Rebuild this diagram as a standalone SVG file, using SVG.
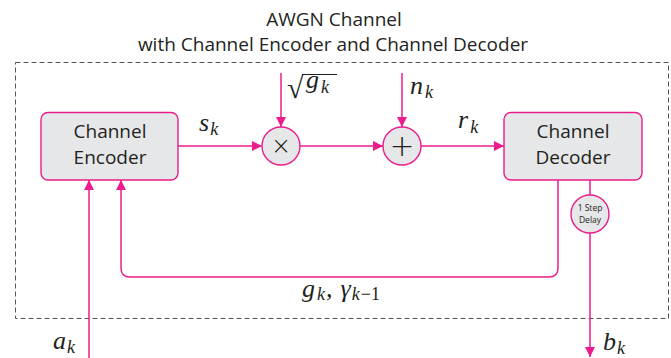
<svg xmlns="http://www.w3.org/2000/svg" width="671" height="358" viewBox="0 0 671 358">
<defs>
<style>
.title{font-family:"Open Sans","Liberation Sans",sans-serif;font-size:19px;fill:#231f20;text-anchor:middle}
.box{fill:#e6e7e8;stroke:#ec1c8c;stroke-width:1.4}
.lbl{font-family:"Open Sans","Liberation Sans",sans-serif;font-size:19px;fill:#231f20;text-anchor:middle}
.small{font-family:"Open Sans","Liberation Sans",sans-serif;font-size:8.5px;fill:#231f20;text-anchor:middle}
.op{font-family:"DejaVu Sans","Liberation Sans",sans-serif;fill:#231f20;text-anchor:middle;font-weight:200}
.conn{fill:none;stroke:#ec1c8c;stroke-width:1.5}
.m{font-family:"Liberation Serif","Times New Roman",serif;font-style:italic;font-size:26px;fill:#231f20}
.s{font-size:18px}
</style>
<marker id="arr" viewBox="0 0 10 10" refX="10" refY="5" markerWidth="10" markerHeight="10" markerUnits="userSpaceOnUse" orient="auto">
<path d="M0,0 L10,5 L0,10 z" fill="#ec1c8c"/>
</marker>
</defs>
<rect width="671" height="358" fill="#ffffff"/>
<text class="title" x="334" y="26">AWGN Channel</text>
<text class="title" x="333" y="51">with Channel Encoder and Channel Decoder</text>
<rect x="15.5" y="62.5" width="653" height="256" fill="none" stroke="#555555" stroke-width="1" stroke-dasharray="5,3"/>
<g id="connectors">
<path class="conn" d="M178,146 H262" marker-end="url(#arr)"/>
<path class="conn" d="M300,146 H383" marker-end="url(#arr)"/>
<path class="conn" d="M421,146 H504" marker-end="url(#arr)"/>
<path class="conn" d="M281,73 V127" marker-end="url(#arr)"/>
<path class="conn" d="M402,73 V127" marker-end="url(#arr)"/>
<path class="conn" d="M558,180 V268 Q558,277 549,277 H130 Q121,277 121,268 V180" marker-end="url(#arr)"/>
<path class="conn" d="M89,358 V180" marker-end="url(#arr)"/>
<path class="conn" d="M590,180 V195"/>
<path class="conn" d="M590,233 V357" marker-end="url(#arr)"/>
</g>
<g id="encoder">
<rect class="box" x="41" y="112.5" width="137" height="67.5" rx="7"/>
<text class="lbl" x="110" y="138">Channel</text>
<text class="lbl" x="110" y="164">Encoder</text>
</g>
<g id="multiply">
<circle class="box" cx="281" cy="146" r="19"/>
<text class="op" x="281" y="154" font-size="24">×</text>
</g>
<g id="adder">
<circle class="box" cx="402" cy="146" r="19"/>
<text class="op" x="402" y="156" font-size="30">+</text>
</g>
<g id="decoder">
<rect class="box" x="504" y="112.5" width="138" height="67.5" rx="7"/>
<text class="lbl" x="573" y="138">Channel</text>
<text class="lbl" x="573" y="164">Decoder</text>
</g>
<g id="delay">
<circle class="box" cx="590" cy="214" r="19"/>
<text class="small" x="590" y="210.5">1 Step</text>
<text class="small" x="590" y="222.5">Delay</text>
</g>
<g id="labels">
<text class="m" x="199" y="131">s<tspan class="s" dx="1" dy="4">k</tspan></text>
<text x="287" y="98" font-family="'Liberation Serif','Times New Roman',serif" font-size="30" fill="#231f20">√</text>
<line x1="302" y1="74.5" x2="337" y2="74.5" stroke="#231f20" stroke-width="1.2"/>
<text class="m" x="306" y="88">g<tspan class="s" dx="2" dy="5">k</tspan></text>
<text class="m" x="410" y="94">n<tspan class="s" dx="2" dy="4">k</tspan></text>
<text class="m" x="458" y="128">r<tspan class="s" dx="2" dy="5">k</tspan></text>
<text class="m" x="302" y="297">g<tspan class="s" dx="2" dy="3">k</tspan><tspan dx="1" dy="-3">,</tspan><tspan dx="8">γ</tspan><tspan class="s" dx="1" dy="3">k</tspan><tspan class="s" font-style="normal" dx="1">−1</tspan></text>
<text class="m" x="53" y="349">a<tspan class="s" dx="1" dy="4">k</tspan></text>
<text class="m" x="603" y="350">b<tspan class="s" dx="1" dy="4">k</tspan></text>
</g>
</svg>
